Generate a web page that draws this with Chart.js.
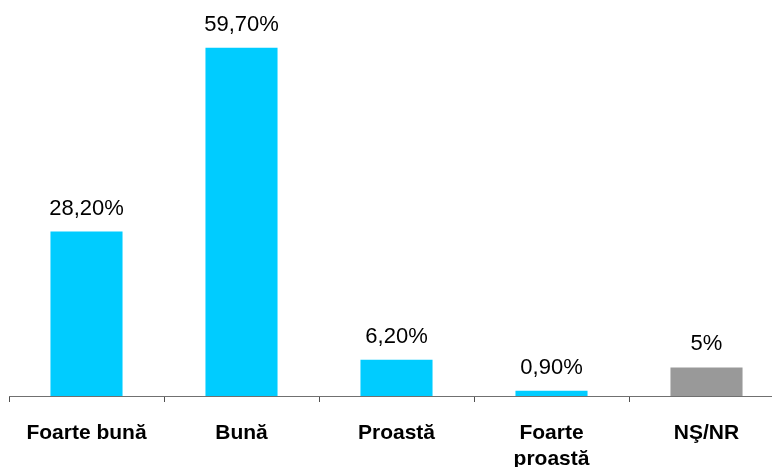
<!DOCTYPE html>
<html lang="ro">
<head>
    <meta charset="UTF-8">
    <title>Evaluare</title>
    <script src="https://cdn.jsdelivr.net/npm/chart.js"></script>
    <style>
        body { margin: 0; background: #fff; overflow: hidden; }
        #wrap { width: 800px; height: 467px; }
    </style>
</head>
<body>
<div id="wrap">
    <canvas id="chart_main" width="800" height="467"></canvas>
</div>

<script>
    // Data
    const categories = ['Foarte bună', 'Bună', 'Proastă', ['Foarte', 'proastă'], 'NŞ/NR'];
    const values = [28.2, 59.7, 6.2, 0.9, 4.9];
    const valueLabels = ['28,20%', '59,70%', '6,20%', '0,90%', '5%'];
    const barColors = ['#00CCFF', '#00CCFF', '#00CCFF', '#00CCFF', '#999999'];

    // Draw the percentage above each bar
    const valueLabelPlugin = {
        id: 'valueLabels',
        afterDatasetsDraw(chart) {
            const ctx = chart.ctx;
            const meta = chart.getDatasetMeta(0);
            ctx.save();
            ctx.font = '22px "Liberation Sans", Arial, sans-serif';
            ctx.fillStyle = '#000';
            ctx.textAlign = 'center';
            ctx.textBaseline = 'alphabetic';
            meta.data.forEach((bar, i) => {
                ctx.fillText(valueLabels[i], bar.x, bar.y - 17);
            });
            ctx.restore();
        }
    };

    const chartMain = new Chart(document.getElementById('chart_main').getContext('2d'), {
        type: 'bar',
        data: {
            labels: categories,
            datasets: [{
                data: values,
                backgroundColor: barColors,
                borderWidth: 0,
                categoryPercentage: 1,
                barPercentage: 0.465
            }]
        },
        options: {
            responsive: false,
            animation: false,
            layout: { padding: { left: 9, right: 16, top: 46, bottom: 0 } },
            plugins: { legend: { display: false }, tooltip: { enabled: false } },
            scales: {
                x: {
                    afterFit: (scale) => { scale.height = 71; },
                    border: { display: true, color: '#707070', width: 1 },
                    grid: { display: true, drawOnChartArea: false, drawTicks: true, tickLength: 6, color: '#505050', offset: true },
                    ticks: {
                        color: '#000',
                        padding: 18,
                        maxRotation: 0,
                        autoSkip: false,
                        font: { family: '"Liberation Sans", Arial, sans-serif', size: 21, weight: 'bold', lineHeight: 1.25 }
                    }
                },
                y: { display: false, min: 0, max: 60 }
            }
        },
        plugins: [valueLabelPlugin]
    });
</script>
</body>
</html>
